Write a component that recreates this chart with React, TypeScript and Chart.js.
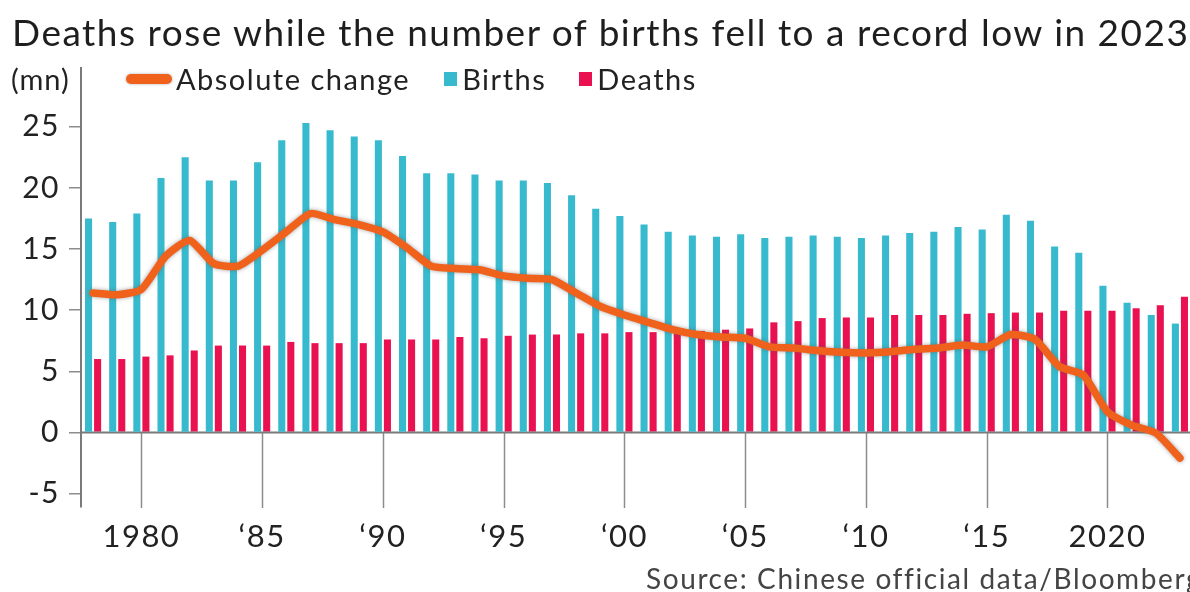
import React, { useEffect, useRef } from "react";
import { Chart, registerables } from "chart.js";

Chart.register(...registerables);

const years: string[] = [
  "1978", "1979", "1980", "1981", "1982", "1983", "1984", "1985", "1986", "1987",
  "1988", "1989", "1990", "1991", "1992", "1993", "1994", "1995", "1996", "1997",
  "1998", "1999", "2000", "2001", "2002", "2003", "2004", "2005", "2006", "2007",
  "2008", "2009", "2010", "2011", "2012", "2013", "2014", "2015", "2016", "2017",
  "2018", "2019", "2020", "2021", "2022", "2023",
];

const births: number[] = [
  17.5, 17.2, 17.9, 20.8, 22.5, 20.6, 20.6, 22.1, 23.9, 25.3, 24.7, 24.2, 23.9,
  22.6, 21.2, 21.2, 21.1, 20.6, 20.6, 20.4, 19.4, 18.3, 17.7, 17.0, 16.4, 16.1, 16.0, 16.2, 15.9,
  16.0, 16.1, 16.0, 15.9, 16.1, 16.3, 16.4, 16.8, 16.6, 17.8, 17.3, 15.2, 14.7, 12.0, 10.6, 9.6, 8.9,
];

const deaths: number[] = [
  6.0, 6.0, 6.2, 6.3, 6.7, 7.1, 7.1, 7.1, 7.4, 7.3, 7.3, 7.3, 7.6,
  7.6, 7.6, 7.8, 7.7, 7.9, 8.0, 8.0, 8.1, 8.1, 8.2, 8.2, 8.2, 8.3, 8.4, 8.5, 9.0,
  9.1, 9.35, 9.4, 9.4, 9.6, 9.6, 9.6, 9.7, 9.75, 9.8, 9.8, 9.95, 9.95, 9.95, 10.15, 10.4, 11.1,
];

const absoluteChange: number[] = [
  11.4, 11.25, 11.7, 14.4, 15.7, 13.8, 13.6, 14.9, 16.4, 17.9, 17.4, 17.0, 16.4,
  15.1, 13.6, 13.4, 13.3, 12.8, 12.6, 12.5, 11.4, 10.3, 9.6, 9.0, 8.4, 8.0, 7.8, 7.7, 7.0,
  6.9, 6.7, 6.55, 6.5, 6.6, 6.8, 6.9, 7.15, 7.0, 8.0, 7.6, 5.4, 4.7, 1.7, 0.6, -0.05, -2.1,
];

const xTickLabels: Record<string, string> = {
  "1980": "1980", "1985": "\u201885", "1990": "\u201890", "1995": "\u201895", "2000": "\u201800",
  "2005": "\u201805", "2010": "\u201810", "2015": "\u201815", "2020": "2020",
};

const yTickValues: number[] = [-5, 0, 5, 10, 15, 20, 25];

const TITLE = "Deaths rose while the number of births fell to a record low in 2023";
const SOURCE = "Source: Chinese official data/Bloomberg";

const ORANGE = "#f0621c";
const CYAN = "#38bace";
const RED = "#ea1150";
const FONT = "Lato, 'Open Sans', sans-serif";

export default function App() {
  const canvasRef = useRef<HTMLCanvasElement | null>(null);

  useEffect(() => {
    document.body.style.margin = "0";
    const canvas = canvasRef.current;
    if (!canvas) return;

    const guides = {
      id: "guides",
      beforeInit(chart: any) {
        try {
          chart.ctx.letterSpacing = "1.5px";
        } catch (e) {}
      },
      beforeDraw(chart: any) {
        try {
          chart.ctx.letterSpacing = "1.5px";
        } catch (e) {}
      },
      beforeDatasetsDraw(chart: any) {
        const { ctx, chartArea, scales } = chart;
        const x = scales.x;
        const y = scales.y;
        const y0 = y.getPixelForValue(0);
        ctx.save();
        ctx.strokeStyle = "#8c8c8c";
        ctx.lineWidth = 1.5;
        Object.keys(xTickLabels).forEach((yr) => {
          const idx = years.indexOf(yr);
          const px = Math.round(x.getPixelForValue(idx)) + 0.5;
          ctx.beginPath();
          ctx.moveTo(px, y0);
          ctx.lineTo(px, chartArea.bottom + 1);
          ctx.stroke();
        });
        ctx.restore();
      },
      afterDatasetDraw(chart: any, args: any) {
        const { ctx, chartArea, scales } = chart;
        if (args.index === 2) {
          const y0 = Math.round(scales.y.getPixelForValue(0)) + 0.5;
          ctx.save();
          ctx.strokeStyle = "#7a7a7a";
          ctx.lineWidth = 2;
          ctx.beginPath();
          ctx.moveTo(chartArea.left, y0);
          ctx.lineTo(chartArea.right, y0);
          ctx.stroke();
          ctx.restore();
        }
        if (args.index === 0) {
          ctx.restore();
        }
      },
      beforeDatasetDraw(chart: any, args: any) {
        if (args.index === 0) {
          const ctx = chart.ctx;
          ctx.save();
          ctx.shadowColor = "rgba(90,90,90,0.55)";
          ctx.shadowBlur = 4;
          ctx.shadowOffsetX = 0;
          ctx.shadowOffsetY = 0;
        }
      },
    };

    const chart = new Chart(canvas, {
      type: "bar",
      data: {
        labels: years,
        datasets: [
          {
            type: "line",
            label: "Absolute change",
            data: absoluteChange,
            borderColor: ORANGE,
            backgroundColor: ORANGE,
            borderWidth: 7.5,
            pointRadius: 0,
            tension: 0.2,
            borderCapStyle: "round",
            borderJoinStyle: "round",
            order: 0,
          } as any,
          {
            type: "bar",
            label: "Births",
            data: births,
            backgroundColor: CYAN,
            categoryPercentage: 0.75,
            barPercentage: 0.78,
            order: 1,
          },
          {
            type: "bar",
            label: "Deaths",
            data: deaths,
            backgroundColor: RED,
            categoryPercentage: 0.75,
            barPercentage: 0.78,
            order: 1,
          },
        ],
      },
      options: {
        responsive: false,
        animation: false,
        layout: { padding: { left: 0, right: 8, top: 68, bottom: 0 } },
        plugins: {
          legend: { display: false },
          title: { display: false },
          tooltip: { enabled: false },
        },
        scales: {
          x: {
            type: "category",
            offset: true,
            grid: { display: false },
            border: { display: false },
            ticks: {
              autoSkip: false,
              maxRotation: 0,
              minRotation: 0,
              padding: 3,
              color: "#222",
              font: { family: FONT, size: 31 },
              callback: (_v: any, i: number) => {
                const lbl = xTickLabels[years[i]];
                return lbl === undefined ? null : lbl;
              },
            },
            afterFit: (scale: any) => {
              scale.height = 85;
            },
          },
          y: {
            min: -6.1,
            max: 29.8,
            grid: {
              drawOnChartArea: false,
              drawTicks: true,
              tickLength: 12,
              color: "#8c8c8c",
              lineWidth: 1.5,
            },
            border: { display: true, color: "#7a7a7a", width: 2 },
            afterBuildTicks: (scale: any) => {
              scale.ticks = yTickValues.map((v) => ({ value: v }));
            },
            ticks: {
              padding: 9,
              color: "#222",
              font: { family: FONT, size: 30 },
              callback: (v: any) => String(v),
            },
            afterFit: (scale: any) => {
              scale.width = 81;
            },
          },
        },
      },
      plugins: [guides],
    } as any);

    return () => chart.destroy();
  }, []);

  return (
    <div
      style={{
        position: "fixed",
        left: 0,
        top: 0,
        width: 1190,
        height: 592,
        overflow: "hidden",
        background: "#ffffff",
        fontFamily: FONT,
        color: "#222",
      }}
    >
      <canvas
        ref={canvasRef}
        width={1200}
        height={592}
        style={{ position: "absolute", left: 0, top: 0, width: 1200, height: 592 }}
      />
      <div
        style={{
          position: "absolute",
          left: 12,
          top: 10,
          fontSize: 37,
          lineHeight: "44px",
          letterSpacing: "1.5px",
          whiteSpace: "nowrap",
          color: "#1e1e1e",
        }}
      >
        {TITLE}
      </div>
      <div
        style={{
          position: "absolute",
          left: 11,
          top: 62,
          fontSize: 29,
          lineHeight: "34px",
          letterSpacing: "1px",
          whiteSpace: "nowrap",
          background: "#fff",
          paddingRight: 3,
        }}
      >
        (mn)
      </div>
      <div
        style={{
          position: "absolute",
          left: 126,
          top: 62,
          height: 34,
          display: "flex",
          alignItems: "center",
          fontSize: 29,
          lineHeight: "34px",
          letterSpacing: "1.5px",
          whiteSpace: "nowrap",
          background: "#fff",
        }}
      >
        <span
          style={{
            display: "inline-block",
            width: 46,
            height: 10,
            borderRadius: 5,
            background: ORANGE,
            boxShadow: "0 0 3px rgba(120,120,120,0.6)",
            marginRight: 4,
          }}
        />
        <span>Absolute change</span>
        <span
          style={{
            display: "inline-block",
            width: 13,
            height: 14,
            background: CYAN,
            marginLeft: 34,
            marginRight: 5,
          }}
        />
        <span>Births</span>
        <span
          style={{
            display: "inline-block",
            width: 13,
            height: 14,
            background: RED,
            marginLeft: 33,
            marginRight: 5,
          }}
        />
        <span>Deaths</span>
      </div>
      <div
        style={{
          position: "absolute",
          left: 646,
          top: 561,
          fontSize: 28,
          lineHeight: "34px",
          letterSpacing: "1.6px",
          whiteSpace: "nowrap",
          color: "#444",
        }}
      >
        {SOURCE}
      </div>
    </div>
  );
}
